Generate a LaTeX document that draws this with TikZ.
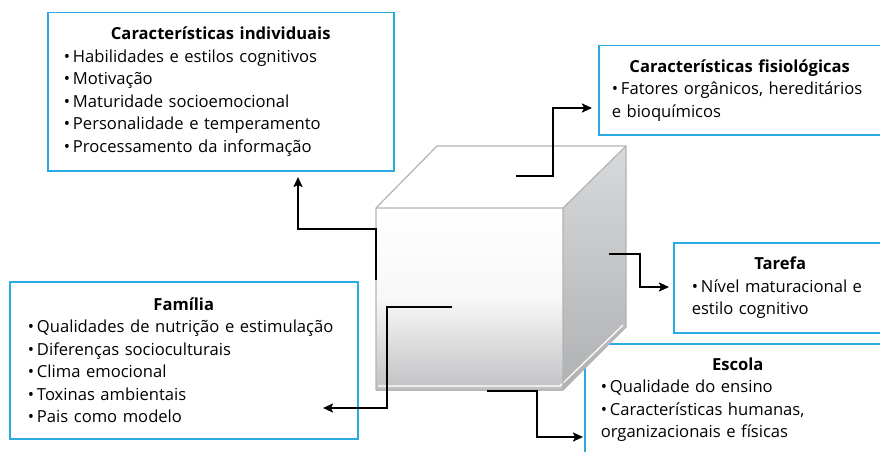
\documentclass[tikz,border=0pt]{standalone}
\usepackage{fontspec}
\setmainfont{Open Sans}
\usetikzlibrary{arrows.meta}
\definecolor{boxblue}{RGB}{41,171,226}
\definecolor{edgegray}{RGB}{178,179,181}
\definecolor{facegray}{RGB}{192,193,195}
\definecolor{sidetop}{RGB}{216,217,219}
\definecolor{sidebot}{RGB}{176,177,179}
\newcommand{\bul}{•\hspace{3pt}}

\begin{document}
\begin{tikzpicture}[x=1pt, y=-1pt]
% -------------------------------------------------
\tikzset{
  rect/.style={draw=boxblue, line width=1.5pt, anchor=north west, inner ysep=0pt, align=left, font=\fontsize{16.6}{22.5}\selectfont},
  line/.style={draw, line width=2pt, -{Stealth[length=10pt, width=9pt, inset=2pt]}},
  cubeedge/.style={draw=edgegray, line width=1.2pt, line join=round}
}
    \useasboundingbox (0,0) rectangle (880,452);
    \clip (0,0) rectangle (880,452);

    \node [rect, inner xsep=16pt, text width=314pt, minimum height=158pt] (ind) at (47,12)
      {{\centering\bfseries Características individuais\par}\bul Habilidades e estilos cognitivos\\\bul Motivação\\\bul Maturidade socioemocional\\\bul Personalidade e temperamento\\\bul Processamento da informação};
    \node [rect, inner xsep=13pt, text width=256pt, minimum height=89pt] (fis) at (598,45)
      {{\centering\bfseries Características fisiológicas\par}\bul Fatores orgânicos, hereditários\\e bioquímicos};
    \node [rect, inner xsep=18pt, text width=312pt, minimum height=157pt] (fam) at (9,281)
      {{\centering\bfseries Família\par}\bul Qualidades de nutrição e estimulação\\\bul Diferenças socioculturais\\\bul Clima emocional\\\bul Toxinas ambientais\\\bul Pais como modelo};
    \node [rect, inner xsep=18pt, text width=177pt, minimum height=90pt] (tar) at (673,242)
      {{\centering\bfseries Tarefa\par}\bul Nível maturacional e\\estilo cognitivo};
    \node [rect, inner xsep=16pt, text width=274pt, minimum height=112pt] (esc) at (584,343)
      {{\centering\bfseries Escola\par}\bul Qualidade do ensino\\\bul Características humanas,\\organizacionais e físicas};

    \shade[top color=white, bottom color=facegray, middle color=gray!6] (376,208) rectangle (563,390);   % cube: front face
    \shade[top color=sidetop, bottom color=sidebot] (563,208) -- (626,146) -- (626,327) -- (563,390) -- cycle; % cube: right face
    \fill[white] (376,208) -- (437,146) -- (626,146) -- (563,208) -- cycle;                              % cube: top face
    \draw[white, line width=1.2pt] (378,386) -- (560,386) -- (623,325);                                  % cube: bottom highlight
    \draw[cubeedge] (376,208) -- (437,146) -- (626,146) -- (626,327) -- (563,390) -- (376,390) -- cycle;  % cube: outline
    \draw[cubeedge] (376,208) -- (563,208) -- (626,146) (563,208) -- (563,390);                          % cube: inner edges

    \coordinate (ind-s) at (376,280);
    \coordinate (ind-e) at (298,177);
    \coordinate (fis-s) at (516,176);
    \coordinate (fis-e) at (592,108);
    \coordinate (tar-s) at (609,254);
    \coordinate (tar-e) at (669,287);
    \coordinate (esc-s) at (487,391);
    \coordinate (esc-e) at (583,437);
    \coordinate (fam-s) at (452,307);
    \coordinate (fam-e) at (323,408);

    \path [line] (ind-s) -- ++(0,-51) -| (ind-e);
    \path [line] (fis-s) -- ++(37,0) |- (fis-e);
    \path [line] (tar-s) -- ++(31,0) |- (tar-e);
    \path [line] (esc-s) -- ++(50,0) |- (esc-e);
    \path [line] (fam-s) -- ++(-65,0) |- (fam-e);

\end{tikzpicture}
\end{document}
